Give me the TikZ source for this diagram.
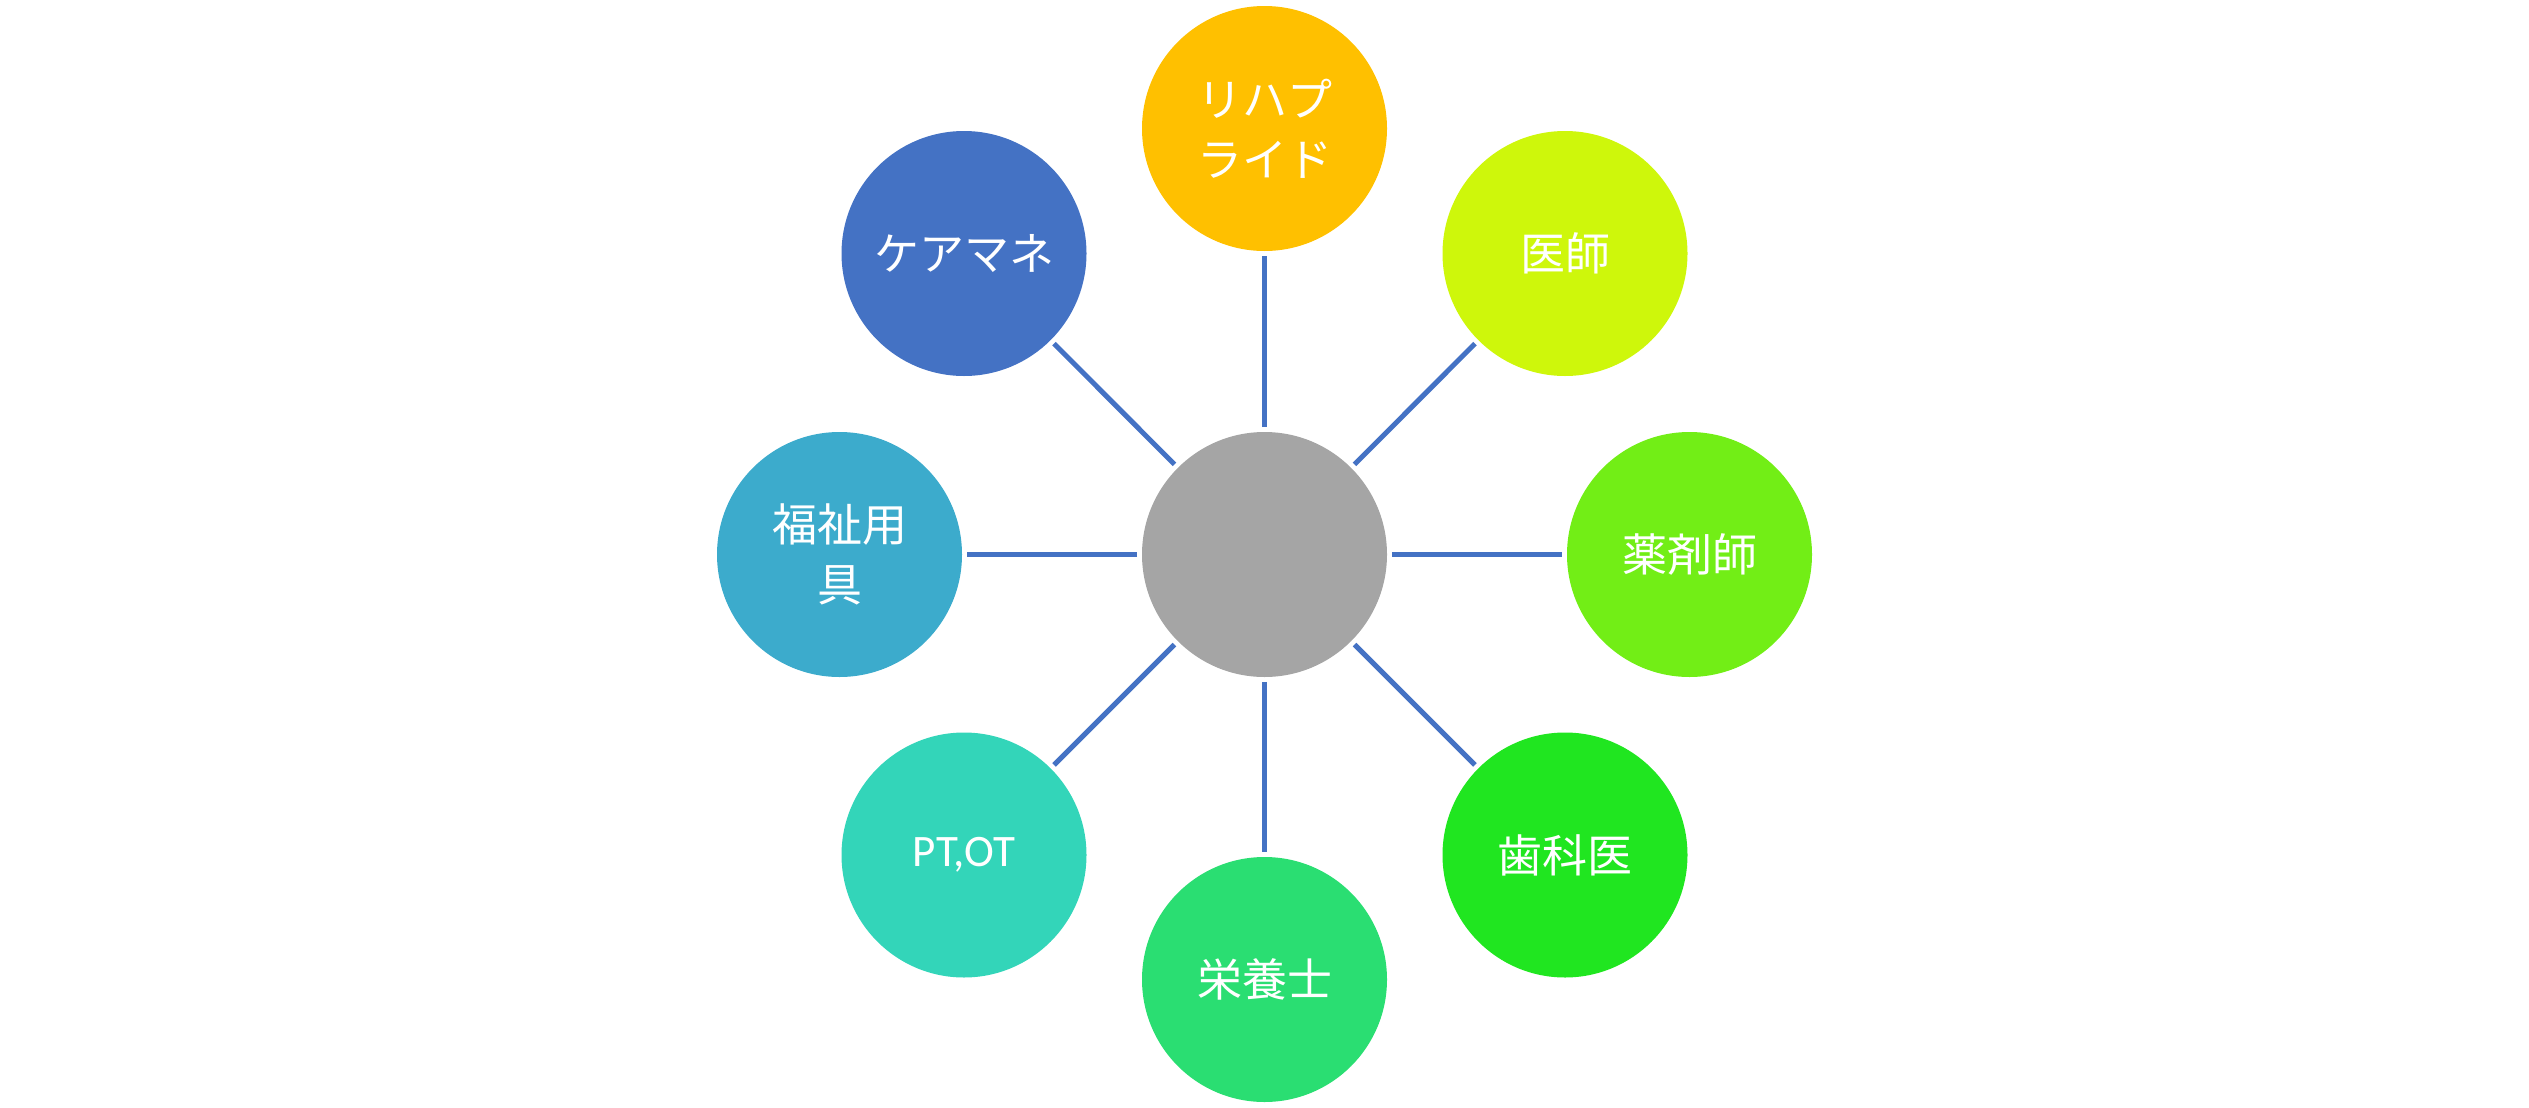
\documentclass[tikz,border=0pt]{standalone}
\usepackage{fontspec}
\setmainfont{Noto Sans CJK JP}
\newfontfamily\latinfont{Carlito}
\definecolor{cTop}{HTML}{FFC000}
\definecolor{cIshi}{HTML}{CEF70B}
\definecolor{cYaku}{HTML}{72EE16}
\definecolor{cShika}{HTML}{20E620}
\definecolor{cEiyo}{HTML}{2ADE72}
\definecolor{cPTOT}{HTML}{33D5B9}
\definecolor{cFuku}{HTML}{3CABCC}
\definecolor{cCare}{HTML}{4472C4}
\definecolor{cCenter}{HTML}{A5A5A5}
\definecolor{cLine}{HTML}{4472C4}
\tikzset{
  bubble/.style={circle, minimum size=122.5pt, inner sep=0pt, draw=none,
    text=white, font=\fontsize{22.5}{30}\selectfont, align=center},
  link/.style={draw=cLine, line width=2.5pt, shorten >=2.2pt, shorten <=2.2pt}
}
\begin{document}
\begin{tikzpicture}[x=0.5pt,y=-0.5pt]
\useasboundingbox (0,0) rectangle (2529,1108);
\node[bubble, fill=cCenter] (c) at (1264.5,554.5) {};
\node[bubble, fill=cTop] (top) at (1264.5,128.5) {リハプ\\ライド};
\node[bubble, fill=cIshi] (ishi) at (1565,253.5) {医師};
\node[bubble, fill=cYaku] (yaku) at (1689.5,554.5) {薬剤師};
\node[bubble, fill=cShika] (shika) at (1565,855) {歯科医};
\node[bubble, fill=cEiyo] (eiyo) at (1264.5,979.5) {栄養士};
\node[bubble, fill=cPTOT] (ptot) at (964,855) {\latinfont PT,OT};
\node[bubble, fill=cFuku] (fuku) at (839.5,554.5) {福祉用\\具};
\node[bubble, fill=cCare] (care) at (964,253.5) {ケアマネ};
\foreach \n in {top,ishi,yaku,shika,eiyo,ptot,fuku,care}
  \draw[link] (c) -- (\n);
\end{tikzpicture}
\end{document}
